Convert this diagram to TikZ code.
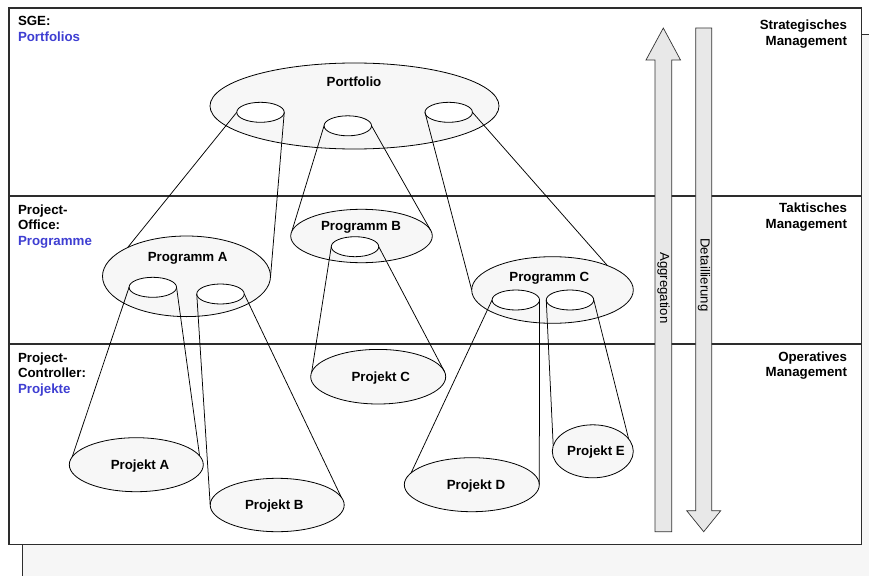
\documentclass[tikz,border=0pt]{standalone}
\usepackage{fontspec}
\setmainfont{Liberation Sans}
\usetikzlibrary{shapes.geometric}
\definecolor{ovalfill}{RGB}{247,247,247}
\definecolor{pagefill}{RGB}{246,246,246}
\definecolor{barfill}{RGB}{232,232,232}
\definecolor{rolecol}{RGB}{62,62,210}
\definecolor{framecol}{RGB}{45,45,45}
\begin{document}
\begin{tikzpicture}[x=1pt,y=-1pt,
  txt/.style={font=\fontsize{13.3}{15.5}\selectfont\bfseries, inner sep=0, outer sep=0},
  role/.style={txt, text=rolecol},
  lefttxt/.style={txt, anchor=base west},
  righttxt/.style={txt, anchor=base east},
  oval/.style={ellipse, draw=black, fill=ovalfill, line width=0.8, inner sep=0, outer sep=0},
  hole/.style={ellipse, draw=black, fill=white, line width=0.8, inner sep=0, outer sep=0,
               minimum width=47.5, minimum height=20},
  link/.style={draw=black, line width=0.75},
  bar/.style={draw=black!80, fill=barfill, line width=0.7},
  bartxt/.style={font=\fontsize{13.2}{15}\selectfont, inner sep=0, rotate=-90}]

\useasboundingbox (0,0) rectangle (869,575);

% sheet lying behind the frame
\draw[fill=pagefill, line width=0.9, draw=framecol] (22,34) rectangle (890,600);

% main frame and the three management levels
\draw[fill=white, line width=1.2, draw=framecol] (9,8) rectangle (861.7,544.3);
\draw[line width=1.2, draw=framecol] (9,196) -- (861.7,196);
\draw[line width=1.2, draw=framecol] (9,344) -- (861.7,344);

% portfolio level
\node[oval, minimum width=289, minimum height=86] (pf) at (354.5,106) {};
\node[hole] (pfl) at (260.5,112.3) {};
\node[hole] (pfm) at (347.8,125.8) {};
\node[hole] (pfr) at (448.7,112.3) {};

% programme level
\node[oval, minimum width=168, minimum height=80.6] (pa) at (186.5,276.3) {};
\node[hole] (pa1) at (152.8,287.3) {};
\node[hole] (pa2) at (220.5,294) {};
\node[oval, minimum width=141.6, minimum height=53.4] (pb) at (361.5,236) {};
\node[hole] (pb1) at (355,246.7) {};
\node[oval, minimum width=161.6, minimum height=66.6] (pc) at (552.5,290) {};
\node[hole] (pc1) at (515.8,300) {};
\node[hole] (pc2) at (570,300) {};

% project level
\node[oval, minimum width=134, minimum height=54] (ja) at (136.3,464.7) {};
\node[oval, minimum width=134, minimum height=53.4] (jb) at (277.2,505) {};
\node[oval, minimum width=135, minimum height=54.6] (jc) at (378.2,376.7) {};
\node[oval, minimum width=135, minimum height=54] (jd) at (471.8,484.7) {};
\node[oval, minimum width=81, minimum height=53] (je) at (592.8,451.3) {};

% cones from the openings down to the next level
\draw[link] (pfl.west) -- (pa.154);
\draw[link] (pfl.east) -- (pa.-1);
\draw[link] (pfm.west) -- (pb.176);
\draw[link] (pfm.east) -- (pb.5);
\draw[link] (pfr.west) -- (pc.180);
\draw[link] (pfr.east) -- (pc.24);
\draw[link] (pa1.west) -- (ja.173);
\draw[link] (pa1.east) -- (ja.8);
\draw[link] (pa2.west) -- (jb.180);
\draw[link] (pa2.east) -- (jb.7);
\draw[link] (pb1.west) -- (jc.176);
\draw[link] (pb1.east) -- (jc.4);
\draw[link] (pc1.west) -- (jd.169);
\draw[link] (pc1.east) -- (jd.0);
\draw[link] (pc2.west) -- (je.172);
\draw[link] (pc2.east) -- (je.19);

% aggregation / detailing arrows
\draw[bar] (655,531.7) -- (655,60) -- (646,60) -- (663.3,28) -- (680.5,60)
  -- (671.7,60) -- (671.7,531.7) -- cycle;
\draw[bar] (695.7,28) -- (711.7,28) -- (711.7,510.7) -- (720.7,510.7)
  -- (703.7,531.7) -- (686.7,510.7) -- (695.7,510.7) -- cycle;
\node[bartxt] (agg) at (663.6,288) {Aggregation};
\node[bartxt] (det) at (704,275) {Detaillierung};

% labels inside the ovals
\node[txt, anchor=base] (tpf) at (354,86.3) {Portfolio};
\node[txt, anchor=base] (tpa) at (187.7,261.3) {Programm A};
\node[txt, anchor=base] (tpb) at (361,230.3) {Programm B};
\node[txt, anchor=base] (tpc) at (549.3,281.3) {Programm C};
\node[txt, anchor=base] (tja) at (140,469.6) {Projekt A};
\node[txt, anchor=base] (tjb) at (274.3,509) {Projekt B};
\node[txt, anchor=base] (tjc) at (380.7,381.3) {Projekt C};
\node[txt, anchor=base] (tjd) at (476,489.6) {Projekt D};
\node[txt, anchor=base] (tje) at (596,455.3) {Projekt E};

% roles on the left
\node[lefttxt] (l1a) at (18,26) {SGE:};
\node[lefttxt, text=rolecol] (l1b) at (18,41.2) {Portfolios};
\node[lefttxt] (l2a) at (18,214.3) {Project-};
\node[lefttxt] (l2b) at (18,229.8) {Office:};
\node[lefttxt, text=rolecol] (l2c) at (18,245.3) {Programme};
\node[lefttxt] (l3a) at (18,362) {Project-};
\node[lefttxt] (l3b) at (18,377.5) {Controller:};
\node[lefttxt, text=rolecol] (l3c) at (18,393) {Projekte};

% management levels on the right
\node[righttxt] (r1a) at (847,30) {Strategisches};
\node[righttxt] (r1b) at (847,45.7) {Management};
\node[righttxt] (r2a) at (847,212.7) {Taktisches};
\node[righttxt] (r2b) at (847,228.4) {Management};
\node[righttxt] (r3a) at (847,361) {Operatives};
\node[righttxt] (r3b) at (847,376.7) {Management};
\end{tikzpicture}
\end{document}
